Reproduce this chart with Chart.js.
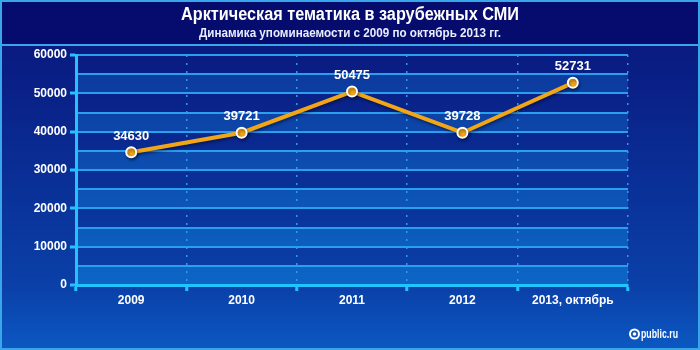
<!DOCTYPE html>
<html>
<head>
<meta charset="utf-8">
<script src="https://cdn.jsdelivr.net/npm/chart.js@4/dist/chart.umd.min.js"></script>
<style>
html,body{margin:0;padding:0;background:#0a1a80;}
#wrap{width:700px;height:350px;position:relative;}
</style>
</head>
<body>
<div id="wrap"><canvas id="c" width="700" height="350"></canvas></div>
<script>
const categories = ['2009', '2010', '2011', '2012', '2013, октябрь'];
const mentions = [34630, 39721, 50475, 39728, 52731];
const titleText = 'Арктическая тематика в зарубежных СМИ';
const subtitleText = 'Динамика упоминаемости с 2009 по октябрь 2013 гг.';
const logoText = 'public.ru';

const FONT = '"Liberation Sans", Arial, sans-serif';

const bgPlugin = {
  id: 'bg',
  beforeDraw(chart) {
    const ctx = chart.ctx, W = chart.width, H = chart.height;
    ctx.save();
    const g = ctx.createLinearGradient(0, 45, 0, H);
    g.addColorStop(0, '#091a80');
    g.addColorStop(0.79, '#0a40a8');
    g.addColorStop(1, '#0c58c2');
    ctx.fillStyle = g;
    ctx.fillRect(0, 0, W, H);
    ctx.fillStyle = '#060c6e';
    ctx.fillRect(0, 0, W, 45);
    ctx.strokeStyle = '#3aa6ea';
    ctx.lineWidth = 2;
    ctx.strokeRect(1, 1, W - 2, H - 2);
    ctx.beginPath(); ctx.moveTo(0, 45); ctx.lineTo(W, 45); ctx.stroke();
    // title
    ctx.fillStyle = '#ffffff';
    ctx.textAlign = 'center';
    ctx.textBaseline = 'middle';
    ctx.font = 'bold 18px ' + FONT;
    ctx.fillText(titleText, 350, 15, 338);
    ctx.font = 'bold 12px ' + FONT;
    ctx.fillStyle = '#e8eeff';
    ctx.fillText(subtitleText, 350, 34, 302);
    // bands
    const ca = chart.chartArea, y = chart.scales.y;
    const bg = ctx.createLinearGradient(0, ca.top, 0, ca.bottom);
    bg.addColorStop(0, '#0d369a');
    bg.addColorStop(1, '#0c66c6');
    ctx.fillStyle = bg;
    for (let v = 0; v < 60000; v += 10000) {
      const y1 = y.getPixelForValue(v + 5000), y0 = y.getPixelForValue(v);
      ctx.fillRect(ca.left, y1, ca.right - ca.left, y0 - y1);
    }
    // logo
    ctx.strokeStyle = '#ffffff';
    ctx.lineWidth = 2;
    ctx.beginPath(); ctx.arc(634.5, 334, 4.5, 0, Math.PI * 2); ctx.stroke();
    ctx.fillStyle = '#ffffff';
    ctx.beginPath(); ctx.arc(634.5, 334, 1.8, 0, Math.PI * 2); ctx.fill();
    ctx.font = 'bold 13px ' + FONT;
    ctx.textAlign = 'left';
    ctx.fillText(logoText, 641, 334, 37);
    ctx.restore();
  }
};

const shadowPlugin = {
  id: 'lineShadow',
  beforeDatasetsDraw(chart) {
    const ctx = chart.ctx;
    ctx.save();
    ctx.shadowColor = 'rgba(0,0,30,0.45)';
    ctx.shadowBlur = 3;
    ctx.shadowOffsetX = 1;
    ctx.shadowOffsetY = 2;
  },
  afterDatasetsDraw(chart) {
    chart.ctx.restore();
  }
};

const labelPlugin = {
  id: 'vlabels',
  afterDatasetsDraw(chart) {
    const ctx = chart.ctx;
    const meta = chart.getDatasetMeta(0);
    ctx.save();
    ctx.shadowColor = 'rgba(0,0,0,0)';
    ctx.fillStyle = '#ffffff';
    ctx.font = 'bold 13px ' + FONT;
    ctx.textAlign = 'center';
    ctx.textBaseline = 'middle';
    meta.data.forEach((pt, i) => {
      ctx.fillText(String(mentions[i]), pt.x, pt.y - 16);
    });
    ctx.restore();
  }
};

new Chart(document.getElementById('c'), {
  type: 'line',
  data: {
    labels: categories,
    datasets: [{
      data: mentions,
      borderColor: '#f2a516',
      borderWidth: 4,
      pointRadius: 5,
      pointHoverRadius: 5,
      pointBackgroundColor: '#f2a516',
      pointBorderColor: '#ffffff',
      pointBorderWidth: 2,
      tension: 0
    }]
  },
  options: {
    responsive: false,
    animation: false,
    events: [],
    layout: { padding: { left: 0, right: 72, top: 55, bottom: 40 } },
    plugins: { legend: { display: false }, title: { display: false }, tooltip: { enabled: false } },
    scales: {
      x: {
        offset: true,
        afterFit(s) { s.height = 25; },
        grid: {
          offset: true,
          color: '#2c9ce8',
          lineWidth: 1.5,
          drawTicks: true,
          tickLength: 6,
          tickColor: '#22c4ff',
          tickWidth: 3,
          tickBorderDash: []
        },
        border: { display: true, color: '#22c4ff', width: 3, dash: [2, 6] },
        ticks: { color: '#ffffff', font: { family: FONT, size: 12, weight: 'bold' }, padding: 2 }
      },
      y: {
        min: 0, max: 60000,
        afterFit(s) { s.width = 76; },
        ticks: {
          stepSize: 5000,
          color: '#ffffff',
          font: { family: FONT, size: 12, weight: 'bold' },
          padding: 3,
          callback: v => (v % 10000 === 0 ? String(v) : '')
        },
        grid: {
          color: '#2a9ff0',
          lineWidth: 2,
          tickLength: 6,
          tickWidth: 3,
          tickColor: ctx => (ctx.tick && ctx.tick.value % 10000 === 0 ? '#22c4ff' : 'rgba(0,0,0,0)')
        },
        border: { display: true, color: '#22c4ff', width: 3 }
      }
    }
  },
  plugins: [bgPlugin, shadowPlugin, labelPlugin]
});
</script>
</body>
</html>
